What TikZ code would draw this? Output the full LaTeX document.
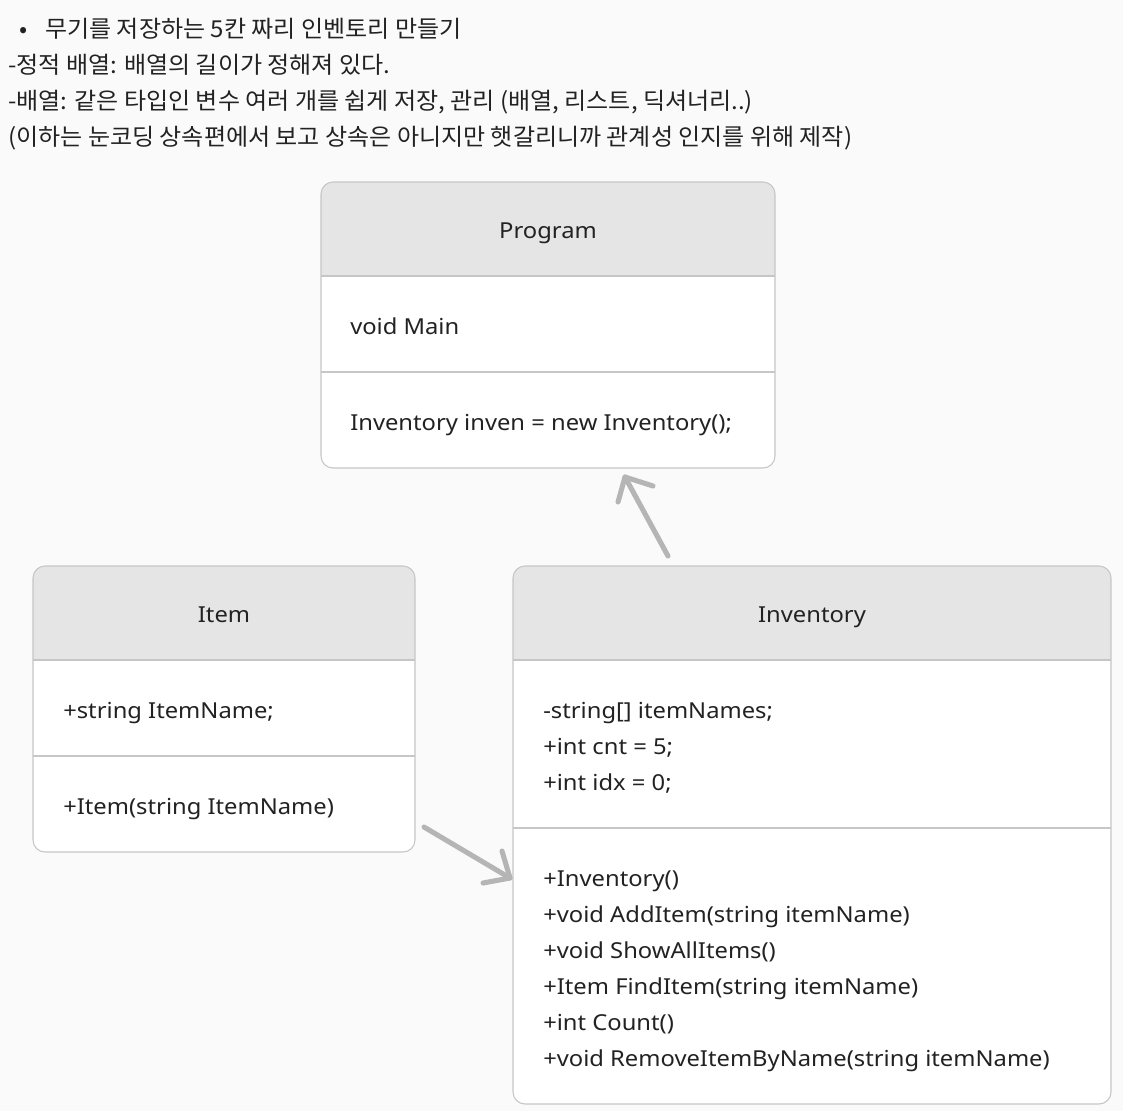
\documentclass[tikz,border=0pt]{standalone}
\usepackage{fontspec}
\setmainfont[FakeStretch=1.08]{Noto Sans}
\newfontfamily\krfont[FakeStretch=1.03]{Noto Sans CJK KR}
\definecolor{bg}{HTML}{FAFAFA}
\definecolor{hdr}{HTML}{E5E5E5}
\definecolor{bd}{HTML}{C6C6C6}
\definecolor{ink}{HTML}{222222}
\definecolor{arr}{HTML}{B5B5B5}
\newcommand\umlbox[6]{%
  \begin{scope}
    \clip[rounded corners=9pt] (#1,#2) rectangle (#3,#4);
    \fill[white] (#1,#2) rectangle (#3,#4);
    \fill[hdr] (#1,#2) rectangle (#3,#5);
    \draw[bd, line width=0.8pt] (#1,#5) -- (#3,#5);
    \draw[bd, line width=0.8pt] (#1,#6) -- (#3,#6);
  \end{scope}
  \draw[bd, line width=0.8pt, rounded corners=9pt] (#1,#2) rectangle (#3,#4);
}
\begin{document}
\begin{tikzpicture}[x=0.75pt,y=-0.75pt,
  txt/.style={font=\fontsize{16.5}{20}\selectfont, text=ink, inner sep=0pt, anchor=base west},
  ttl/.style={font=\fontsize{16.5}{20}\selectfont, text=ink, inner sep=0pt, anchor=base},
  kr/.style={font=\krfont\fontsize{17.5}{20}\selectfont, text=ink, inner sep=0pt, anchor=base west},
  arrline/.style={draw=arr, line width=3.8pt, line cap=round, line join=round}]
\useasboundingbox (0,0) rectangle (1123,1111);
\fill[bg] (0,0) rectangle (1123,1111);

% header notes
\node[kr] (bul) at (19,37) {•};
\node[kr] (n1) at (45,37) {무기를 저장하는 5칸 짜리 인벤토리 만들기};
\node[kr] (n2) at (8,73) {-정적 배열: 배열의 길이가 정해져 있다.};
\node[kr] (n3) at (8,109) {-배열: 같은 타입인 변수 여러 개를 쉽게 저장, 관리 (배열, 리스트, 딕셔너리..)};
\node[kr] (n4) at (8,145) {(이하는 눈코딩 상속편에서 보고 상속은 아니지만 햇갈리니까 관계성 인지를 위해 제작)};

% Program
\umlbox{321}{182}{775}{468}{276}{372}
\node[ttl] (pt) at (548,238) {Program};
\node[txt] (p1) at (350,334) {void Main};
\node[txt] (p2) at (350,430) {Inventory inven = new Inventory();};

% Item
\umlbox{33}{566}{415}{852}{660}{756}
\node[ttl] (it) at (224,622) {Item};
\node[txt] (i1) at (63,718) {+string ItemName;};
\node[txt] (i2) at (63,814) {+Item(string ItemName)};

% Inventory
\umlbox{513}{566}{1111}{1104}{660}{828}
\node[ttl] (vt) at (812,622) {Inventory};
\node[txt] (v1) at (543,718) {-string[] itemNames;};
\node[txt] (v2) at (543,754) {+int cnt = 5;};
\node[txt] (v3) at (543,790) {+int idx = 0;};
\node[txt] (m1) at (543,886) {+Inventory()};
\node[txt] (m2) at (543,922) {+void AddItem(string itemName)};
\node[txt] (m3) at (543,958) {+void ShowAllItems()};
\node[txt] (m4) at (543,994) {+Item FindItem(string itemName)};
\node[txt] (m5) at (543,1030) {+int Count()};
\node[txt] (m6) at (543,1066) {+void RemoveItemByName(string itemName)};

% arrows
\coordinate (a1tail) at (668,556);
\coordinate (a1tip) at (625,477);
\coordinate (a1l) at (653,486);
\coordinate (a1r) at (618,502);
\draw[arrline] (a1tail) -- (a1tip);
\draw[arrline] (a1l) -- (a1tip) -- (a1r);

\coordinate (a2tail) at (424,827);
\coordinate (a2tip) at (510,878);
\coordinate (a2l) at (502,851);
\coordinate (a2r) at (483,883);
\draw[arrline] (a2tail) -- (a2tip);
\draw[arrline] (a2l) -- (a2tip) -- (a2r);
\end{tikzpicture}
\end{document}
